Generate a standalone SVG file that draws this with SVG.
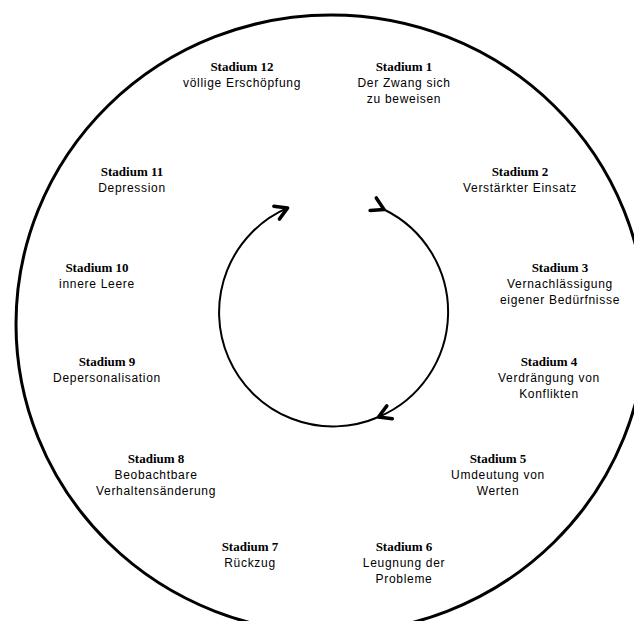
<svg xmlns="http://www.w3.org/2000/svg" width="634" height="621" viewBox="0 0 634 621">
  <style>
    .t { font-family: "Liberation Serif", "Times New Roman", serif; font-weight: bold; font-size: 13px; fill: #000; text-anchor: middle; }
    .d { font-family: "Liberation Sans", Arial, sans-serif; font-size: 12px; letter-spacing: 0.7px; fill: #000; text-anchor: middle; }
    .arc { fill: none; stroke: #000; stroke-width: 2; }
  </style>
  <defs>
    <marker id="arrow" viewBox="0 0 18 18" refX="15" refY="9" markerWidth="18" markerHeight="18" markerUnits="userSpaceOnUse" orient="auto">
      <path d="M3,2 L15,9 L3,16" fill="none" stroke="#000" stroke-width="3.5" stroke-linecap="round" stroke-linejoin="round"/>
    </marker>
  </defs>
  <rect width="634" height="621" fill="#fff"/>
  <ellipse id="outer" cx="331" cy="324" rx="315" ry="309" fill="none" stroke="#000" stroke-width="3"/>
  <g id="connectors">
    <path class="arc" d="M384,209.5 A114,114 0 0 1 378.5,417" marker-start="url(#arrow)" marker-end="url(#arrow)"/>
    <path class="arc" d="M378.5,417 A114,114 0 0 1 287.6,207.9" marker-end="url(#arrow)"/>
  </g>
  <g id="s12"><text class="t" x="242" y="71">Stadium 12</text><text class="d" x="242" y="87">völlige Erschöpfung</text></g>
  <g id="s1"><text class="t" x="404" y="71">Stadium 1</text><text class="d" x="404" y="87">Der Zwang  sich</text><text class="d" x="404" y="103">zu beweisen</text></g>
  <g id="s2"><text class="t" x="520" y="176">Stadium 2</text><text class="d" x="520" y="192">Verstärkter Einsatz</text></g>
  <g id="s3"><text class="t" x="560" y="272">Stadium 3</text><text class="d" x="560" y="288">Vernachlässigung</text><text class="d" x="560" y="304">eigener Bedürfnisse</text></g>
  <g id="s4"><text class="t" x="549" y="366">Stadium 4</text><text class="d" x="549" y="382">Verdrängung von</text><text class="d" x="549" y="398">Konflikten</text></g>
  <g id="s5"><text class="t" x="498" y="463">Stadium 5</text><text class="d" x="498" y="479">Umdeutung von</text><text class="d" x="498" y="495">Werten</text></g>
  <g id="s6"><text class="t" x="404" y="551">Stadium 6</text><text class="d" x="404" y="567">Leugnung der</text><text class="d" x="404" y="583">Probleme</text></g>
  <g id="s7"><text class="t" x="250" y="551">Stadium 7</text><text class="d" x="250" y="567">Rückzug</text></g>
  <g id="s8"><text class="t" x="156" y="463">Stadium 8</text><text class="d" x="156" y="479">Beobachtbare</text><text class="d" x="156" y="495">Verhaltensänderung</text></g>
  <g id="s9"><text class="t" x="107" y="366">Stadium 9</text><text class="d" x="107" y="382">Depersonalisation</text></g>
  <g id="s10"><text class="t" x="97" y="272">Stadium 10</text><text class="d" x="97" y="288">innere Leere</text></g>
  <g id="s11"><text class="t" x="132" y="176">Stadium 11</text><text class="d" x="132" y="192">Depression</text></g>
</svg>
